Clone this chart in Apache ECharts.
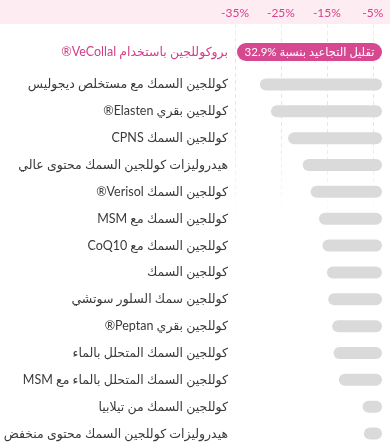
<!DOCTYPE html>
<html>
<head>
<meta charset="utf-8">
<script src="https://cdn.jsdelivr.net/npm/echarts@6/dist/echarts.min.js"></script>
<style>
  html, body { margin: 0; padding: 0; background: #fff; }
  #main { width: 390px; height: 447px; }
</style>
</head>
<body>
<div id="main"></div>
<script>
// highlighted row (own product)
var topName = "بروكوللجين باستخدام VeCollal®";
var topValue = 32.9;

// other collagen types, wrinkle reduction in %
var names = [
    "كوللجين السمك مع مستخلص ديجوليس",
    "كوللجين بقري Elasten®",
    "كوللجين السمك CPNS",
    "هيدروليزات كوللجين السمك محتوى عالي",
    "كوللجين السمك Verisol®",
    "كوللجين السمك مع MSM",
    "كوللجين السمك مع CoQ10",
    "كوللجين السمك",
    "كوللجين سمك السلور سوتشي",
    "كوللجين بقري Peptan®",
    "كوللجين السمك المتحلل بالماء",
    "كوللجين السمك المتحلل بالماء مع MSM",
    "كوللجين السمك من تيلابيا",
    "هيدروليزات كوللجين السمك محتوى منخفض"
];
var values = [27.7, 25.2, 21.3, 18.0, 16.2, 14.3, 13.5, 12.5, 12.2, 11.3, 11.0, 9.8, 4.4, 4.1];

// top scale labels
var tickValues = [-35, -25, -15, -5];

var font = 'Lato, "DejaVu Sans", sans-serif';
var pink = "#d6488f";

// right-to-left embedding so Arabic + latin parts are ordered like the original
function rtl(s) {
    return "\u202B" + s + "\u202C";
}

var myChart = echarts.init(document.getElementById("main"), null, { renderer: "canvas" });

var barMax = 33.35;

var option = {
    backgroundColor: "#fff",
    animation: false,
    graphic: [{
        type: "rect",
        z: -10,
        shape: { x: 0, y: 0, width: 390, height: 24 },
        style: { fill: "#fdedf2" }
    }, {
        // fades the dashed guide lines out towards the bottom
        type: "rect",
        z: 1,
        shape: { x: 232, y: 24, width: 158, height: 423 },
        style: {
            fill: new echarts.graphic.LinearGradient(0, 0, 0, 1, [
                { offset: 0, color: "rgba(255,255,255,0.3)" },
                { offset: 0.08, color: "rgba(255,255,255,0)" },
                { offset: 0.25, color: "rgba(255,255,255,0)" },
                { offset: 0.47, color: "rgba(255,255,255,1)" },
                { offset: 1, color: "rgba(255,255,255,1)" }
            ])
        }
    }],
    grid: [
        { left: 235, right: 8, top: 39, height: 26, outerBoundsMode: "none" },
        { left: 235, right: 8, top: 71, bottom: 0, outerBoundsMode: "none" },
        { left: 235, right: 8, top: 24, bottom: 0, outerBoundsMode: "none" }
    ],
    xAxis: [{
        gridIndex: 0, type: "value", inverse: true, min: 0, max: barMax, show: false
    }, {
        gridIndex: 1, type: "value", inverse: true, min: 0, max: barMax, show: false
    }, {
        gridIndex: 2,
        type: "value",
        position: "top",
        min: -35,
        max: -3,
        axisLine: { show: false },
        axisTick: { show: false, customValues: tickValues },
        axisLabel: {
            customValues: tickValues,
            margin: 5,
            color: "#d6408b",
            fontSize: 12,
            fontFamily: font,
            formatter: function (v) { return v + "%"; }
        },
        splitLine: {
            show: true,
            customValues: tickValues,
            lineStyle: { color: "#e6e6e6", width: 1, type: [4, 3] }
        }
    }],
    yAxis: [{
        gridIndex: 0,
        type: "category",
        data: [topName],
        axisLine: { show: false },
        axisTick: { show: false },
        axisLabel: { margin: 7, color: "#d43d8a", fontSize: 12.5, fontFamily: font, formatter: rtl }
    }, {
        gridIndex: 1,
        type: "category",
        inverse: true,
        data: names,
        axisLine: { show: false },
        axisTick: { show: false },
        axisLabel: { margin: 7, color: "#3a3a3a", fontSize: 12.5, fontFamily: font, formatter: rtl }
    }, {
        gridIndex: 2, type: "value", show: false
    }],
    series: [{
        type: "bar",
        xAxisIndex: 0,
        yAxisIndex: 0,
        data: [topValue],
        barWidth: 18,
        z: 3,
        itemStyle: { color: pink, borderRadius: 9 },
        label: {
            show: true,
            position: "inside",
            color: "#fff",
            fontSize: 11.5,
            fontWeight: "normal",
            fontFamily: font,
            formatter: function (p) {
                return rtl("تقليل التجاعيد بنسبة " + "\u2066" + p.value + "%\u2069");
            }
        }
    }, {
        type: "bar",
        xAxisIndex: 1,
        yAxisIndex: 1,
        data: values,
        barWidth: 12,
        z: 3,
        itemStyle: { color: "#dadada", borderRadius: 6 }
    }]
};
myChart.setOption(option);
</script>
</body>
</html>
